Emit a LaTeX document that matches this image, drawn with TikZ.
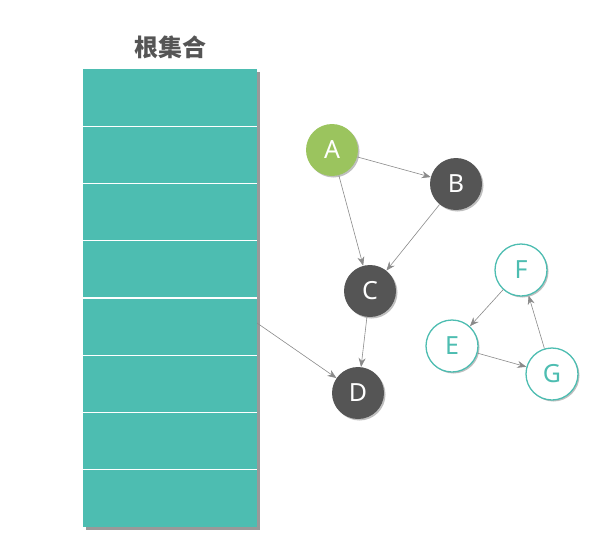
\documentclass[tikz,border=0pt]{standalone}
\usepackage{fontspec}
\setmainfont{Noto Sans}
\newfontfamily\cjk{Noto Sans CJK SC}
\usetikzlibrary{arrows.meta,shadows}
\definecolor{teal1}{HTML}{4DBDB1}
\definecolor{dark1}{HTML}{555555}
\definecolor{green1}{HTML}{9BC45E}
\definecolor{edge1}{HTML}{8A8A8A}
\begin{document}
\begin{tikzpicture}[x=1pt,y=-1pt,
  vnode/.style={circle,minimum size=52pt,inner sep=0pt,font=\fontsize{25}{28}\selectfont,
    drop shadow={shadow xshift=1.5pt,shadow yshift=-1.5pt,opacity=0.25,fill=black}},
  darknode/.style={vnode,fill=dark1,text=white},
  greennode/.style={vnode,fill=green1,text=white},
  freenode/.style={vnode,fill=white,draw=teal1,line width=1.3pt,text=teal1},
  link/.style={draw=edge1,line width=0.6pt,-{Stealth[length=9pt,width=7pt]}},
  divider/.style={draw=white,line width=1.2pt}]
\useasboundingbox (0,0) rectangle (610,557);
\node[font=\cjk\bfseries\fontsize{24}{26}\selectfont,text=dark1] (title) at (170,47) {根集合};
\node[fill=teal1,minimum width=174pt,minimum height=458pt,inner sep=0pt,anchor=north west,
  drop shadow={shadow xshift=2.5pt,shadow yshift=-2.5pt,opacity=0.4,fill=black}] (roots) at (83,69) {};
\foreach \i in {1,...,7} {
  \draw[divider] (83,{69+57.25*\i}) -- (257,{69+57.25*\i});
}
\coordinate (r) at (257,323);
\node[greennode] (A) at (332,150) {A};
\node[darknode] (B) at (456,184) {B};
\node[darknode] (C) at (370,291) {C};
\node[darknode] (D) at (358,393) {D};
\node[freenode] (F) at (521,270) {F};
\node[freenode] (E) at (452,346) {E};
\node[freenode] (G) at (552,374) {G};
\draw[link] (A) -- (B);
\draw[link] (A) -- (C);
\draw[link] (B) -- (C);
\draw[link] (C) -- (D);
\draw[link] (r) -- (D);
\draw[link] (F) -- (E);
\draw[link] (E) -- (G);
\draw[link] (G) -- (F);
\end{tikzpicture}
\end{document}
